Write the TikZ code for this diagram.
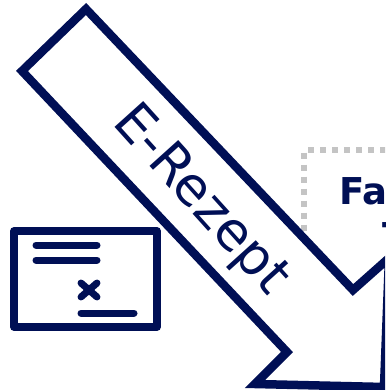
\documentclass[tikz,border=0pt]{standalone}
\usepackage{fontspec}
\setmainfont{DejaVu Sans}
\definecolor{navy}{HTML}{000F55}
\definecolor{dotgray}{HTML}{C4C4C4}
\tikzset{
  outl/.style={draw=navy,line width=8.5pt,line join=miter,miter limit=10},
  iconline/.style={draw=navy,line width=7pt,line cap=round},
  iconbox/.style={draw=navy,line width=7.5pt,line join=round,fill=white},
  dotbox/.style={draw=dotgray,line width=6pt,dash pattern=on 6pt off 6pt},
}
\begin{document}
\begin{tikzpicture}[x=1pt,y=-1pt]
\useasboundingbox (0,0) rectangle (385,390);
\clip (0,0) rectangle (385,390);
% dotted box
\coordinate (b1) at (304,152.7);
\coordinate (b2) at (304,270);
\coordinate (b3) at (308.3,150);
\coordinate (b4) at (400,150);
\draw[dotbox] (b1) -- (b2);
\draw[dotbox] (b3) -- (b4);
\node[text=navy,font=\bfseries\fontsize{37}{37}\selectfont,anchor=base west,inner sep=0pt] (fa) at (339,204) {Fa};
\node[text=navy,font=\bfseries\fontsize{37}{37}\selectfont,anchor=base west,inner sep=0pt] (t) at (382,249) {T};
% arrow
\coordinate (a1) at (86,9);
\coordinate (a2) at (22,71);
\coordinate (a3) at (287,352);
\coordinate (a4) at (255,384);
\coordinate (a5) at (384,387);
\coordinate (a6) at (389,258);
\coordinate (a7) at (353,290);
\draw[outl,fill=white] (a1) -- (a2) -- (a3) -- (a4) -- (a5) -- (a6) -- (a7) -- cycle;
\node[text=navy,font=\fontsize{53}{53}\selectfont,rotate=-48,inner sep=0pt] (label) at (200,201) {E-Rezept};
% icon
\coordinate (i1) at (14,231);
\coordinate (i2) at (157,327);
\draw[iconbox] (i1) rectangle (i2);
\coordinate (l1a) at (36,245); \coordinate (l1b) at (97,245);
\coordinate (l2a) at (36,260); \coordinate (l2b) at (97,260);
\coordinate (l3a) at (81,313); \coordinate (l3b) at (134,313);
\coordinate (x1) at (81,283); \coordinate (x2) at (97,297);
\coordinate (x3) at (81,297); \coordinate (x4) at (97,283);
\draw[iconline] (l1a) -- (l1b);
\draw[iconline] (l2a) -- (l2b);
\draw[iconline] (l3a) -- (l3b);
\draw[iconline] (x1) -- (x2);
\draw[iconline] (x3) -- (x4);
\end{tikzpicture}
\end{document}
